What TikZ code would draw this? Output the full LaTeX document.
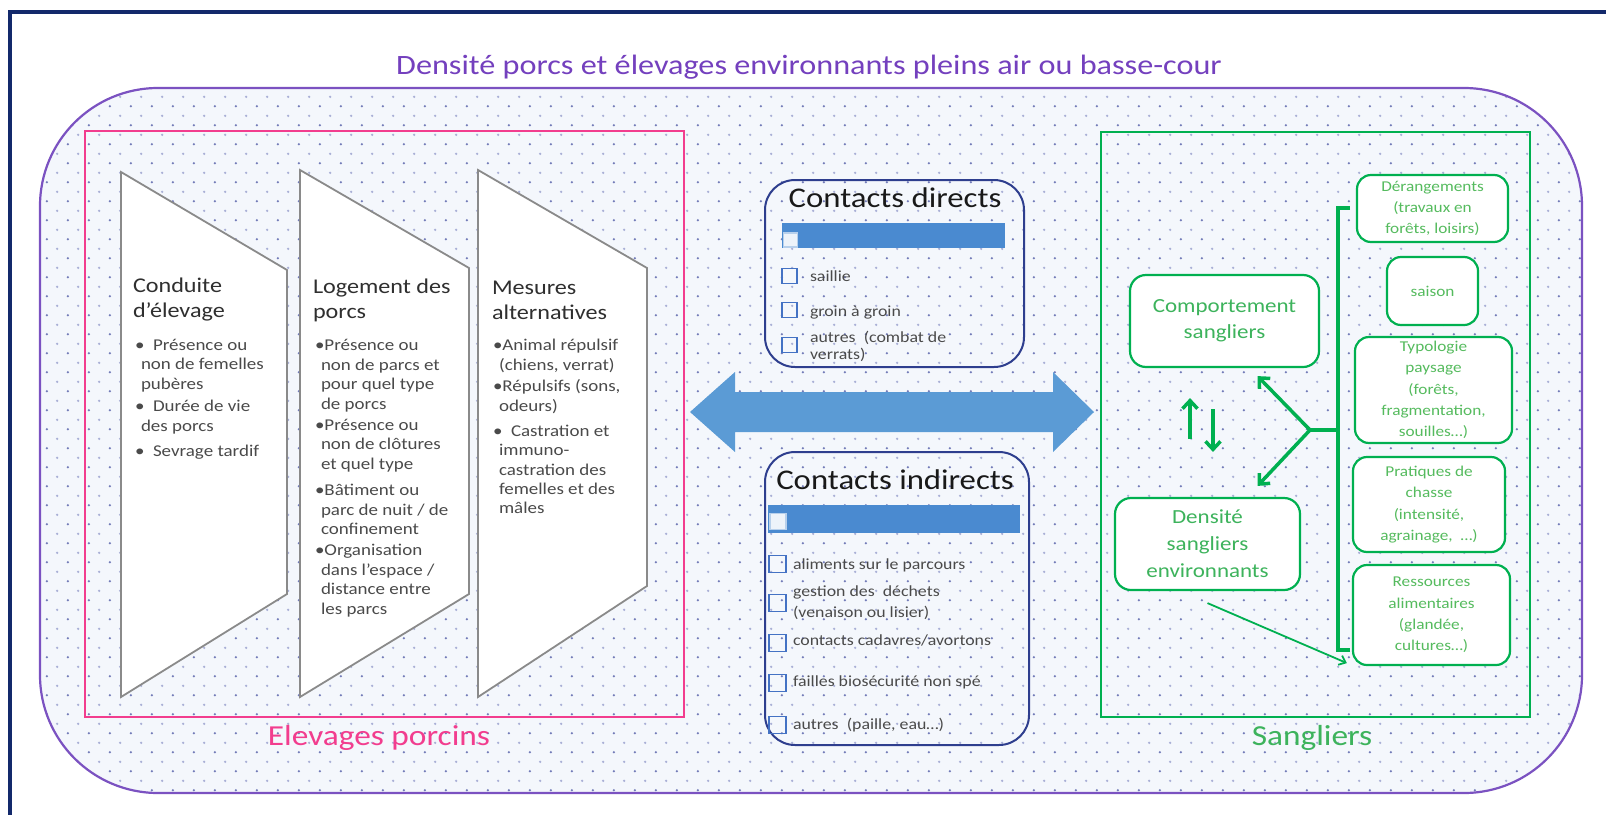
\documentclass[tikz,border=0pt]{standalone}
\usepackage{fontspec}
\setmainfont{Carlito}[FakeStretch=1.15]
\usetikzlibrary{patterns.meta,arrows.meta}
\definecolor{navy}{HTML}{13296B}
\definecolor{zonepurple}{HTML}{7B52C1}
\definecolor{titlepurple}{HTML}{7440BE}
\definecolor{pinkc}{HTML}{F23D8E}
\definecolor{greenc}{HTML}{00B050}
\definecolor{greentxt}{HTML}{3DB35C}
\definecolor{lightgreentxt}{HTML}{55BB5E}
\definecolor{arrowblue}{HTML}{5B9BD5}
\definecolor{barblue}{HTML}{4A8AD0}
\definecolor{boxblue}{HTML}{2E3E8E}
\definecolor{cbblue}{HTML}{4472C4}
\definecolor{trapgray}{HTML}{8A8A8A}
\definecolor{headtxt}{HTML}{2F2F2F}
\definecolor{bodytxt}{HTML}{4A4A4A}
\definecolor{bgc}{HTML}{F4F7FC}
\definecolor{dotdark}{HTML}{737CB8}
\definecolor{dotlight}{HTML}{AAB0D6}
\tikzdeclarepattern{
  name=bgdots,
  type=colored,
  bottom left={(0pt,0pt)},
  top right={(21.3pt,19.3pt)},
  tile size={(21.3pt,19.3pt)},
  code={
    \fill[dotdark] (5pt,5pt) circle[radius=1.3pt];
    \fill[dotlight] (15.65pt,14.65pt) circle[radius=1.3pt];
  }
}
\newcommand\myfs[2]{\fontsize{#1pt}{#2pt}\selectfont}
\newcommand\hind{\hspace*{6pt}}
\begin{document}
\begin{tikzpicture}[x=1pt,y=-1pt,
  txt/.style={inner sep=0pt, outer sep=0pt, anchor=west, align=left},
  trapbox/.style={draw=trapgray, line width=1.8pt, fill=white},
  gbox/.style={draw=greenc, line width=2.2pt, fill=white, rounded corners=14pt, align=center, text=lightgreentxt, inner sep=0pt, font=\myfs{15}{21.3}},
  cbox/.style={draw=cbblue, line width=1.2pt, minimum width=15pt, minimum height=15pt, inner sep=0pt},
  garrow/.style={draw=greenc, line width=3.5pt, -{Straight Barb[length=8pt,width=15pt]}},
  headt/.style={txt, text=headtxt, font=\myfs{21}{25}},
  bullt/.style={txt, text=bodytxt, font=\myfs{16.5}{19.6}},
  itemt/.style={txt, text=bodytxt, font=\myfs{15.5}{21}},
  ctitle/.style={inner sep=0pt, text=black!90, font=\myfs{28.5}{30}},
]
\useasboundingbox (0,0) rectangle (1606,814);
\fill[white] (0,0) rectangle (1606,814);
% outer frame
\draw[navy, line width=4pt] (10,830) -- (10,12) -- (1620,12);
% title
\node[inner sep=0pt, text=titlepurple, font=\myfs{28}{30}] (title) at (809,67) {Densité porcs et élevages environnants pleins air ou basse-cour};
% zone
\node[draw=zonepurple, line width=2.2pt, rounded corners=118pt, preaction={fill=bgc}, pattern=bgdots, minimum width=1542pt, minimum height=705pt, inner sep=0pt] (zone) at (811,440.5) {};
% group frames
\node[draw=pinkc, line width=2pt, minimum width=599pt, minimum height=586pt, inner sep=0pt] (elev) at (384.5,424) {};
\node[draw=greenc, line width=2pt, minimum width=429pt, minimum height=585pt, inner sep=0pt] (sang) at (1315.5,424.5) {};
\node[inner sep=0pt, text=pinkc, font=\myfs{29}{30}] (elevlbl) at (379,738) {Elevages porcins};
\node[inner sep=0pt, text=greentxt, font=\myfs{29}{30}] (sanglbl) at (1312,738) {Sangliers};
% trapezoids
\draw[trapbox] (121,172) -- (287,270) -- (287,594) -- (121,697) -- cycle;
\draw[trapbox] (300,170) -- (469,268) -- (469,594) -- (300,697) -- cycle;
\draw[trapbox] (478,170) -- (647,268) -- (647,586) -- (478,697) -- cycle;
% trapezoid 1 text
\node[headt] (h1) at (133,299.5) {Conduite\\d’élevage};
\node[bullt] (b11) at (135,365.5) {\textbullet\ \ Présence ou\\\hind non de femelles\\\hind pubères};
\node[bullt] (b12) at (135,417) {\textbullet\ \ Durée de vie\\\hind des porcs};
\node[bullt] (b13) at (135,452) {\textbullet\ \ Sevrage tardif};
% trapezoid 2 text
\node[headt] (h2) at (313,300) {Logement des\\porcs};
\node[bullt] (b21) at (315,375.5) {\textbullet Présence ou\\\hind non de parcs et\\\hind pour quel type\\\hind de porcs};
\node[bullt] (b22) at (315,445.5) {\textbullet Présence ou\\\hind non de clôtures\\\hind et quel type};
\node[bullt] (b23) at (315,509.5) {\textbullet Bâtiment ou\\\hind parc de nuit / de\\\hind confinement};
\node[bullt] (b24) at (315,580.5) {\textbullet Organisation\\\hind dans l’espace /\\\hind distance entre\\\hind les parcs};
% trapezoid 3 text
\node[headt] (h3) at (492,300) {Mesures\\alternatives};
\node[bullt] (b31) at (493,356) {\textbullet Animal répulsif\\\hind (chiens, verrat)};
\node[bullt] (b32) at (493,396.5) {\textbullet Répulsifs (sons,\\\hind odeurs)};
\node[bullt, font=\myfs{16.5}{19.3}] (b33) at (493,469.5) {\textbullet\ \ Castration et\\\hind immuno-\\\hind castration des\\\hind femelles et des\\\hind mâles};
% double arrow
\fill[arrowblue] (690,412) -- (735,372) -- (735,392) -- (1053,392) -- (1053,372) -- (1094,412) -- (1053,452) -- (1053,432) -- (735,432) -- (735,452) -- cycle;
% contacts directs
\node[draw=boxblue, line width=2pt, rounded corners=30pt, minimum width=259pt, minimum height=187pt, inner sep=0pt] (cdbox) at (894.5,273.5) {};
\node[ctitle] (cdt) at (895,198) {Contacts directs};
\node[fill=barblue, minimum width=223pt, minimum height=25pt, inner sep=0pt] (cdbar) at (893.5,235.5) {};
\node[cbox, fill=white!90!barblue, draw=white!60!barblue, minimum width=14pt, minimum height=14pt] (cd0) at (790.5,240) {};
\node[cbox] (cd1) at (789.5,276) {};
\node[itemt] (cdt1) at (810,276) {saillie};
\node[cbox] (cd2) at (789.5,310) {};
\node[itemt] (cdt2) at (810,312) {groin à groin};
\node[cbox] (cd3) at (789.5,345) {};
\node[itemt, font=\myfs{15.5}{17}] (cdt3) at (810,346.5) {autres \ (combat de\\verrats)};
% contacts indirects
\node[draw=boxblue, line width=2pt, rounded corners=30pt, minimum width=264pt, minimum height=293pt, inner sep=0pt] (cibox) at (897,598.5) {};
\node[ctitle] (cit) at (895,480) {Contacts indirects};
\node[fill=barblue, minimum width=252pt, minimum height=28pt, inner sep=0pt] (cibar) at (894,519) {};
\node[cbox, fill=white!90!barblue, draw=white!60!barblue, minimum width=16pt, minimum height=16pt] (ci0) at (778,521.5) {};
\node[cbox, minimum width=17pt, minimum height=17pt] (ci1) at (777.5,564) {};
\node[itemt] (cit1) at (793,565) {aliments sur le parcours};
\node[cbox, minimum width=17pt, minimum height=17pt] (ci2) at (777.5,603) {};
\node[itemt] (cit2) at (793,602.5) {gestion des \ déchets\\(venaison ou lisier)};
\node[cbox, minimum width=17pt, minimum height=17pt] (ci3) at (777.5,643) {};
\node[itemt] (cit3) at (793,640) {contacts cadavres/avortons};
\node[cbox, minimum width=17pt, minimum height=17pt] (ci4) at (777.5,683) {};
\node[itemt] (cit4) at (793,682) {failles biosécurité non spé};
\node[cbox, minimum width=17pt, minimum height=17pt] (ci5) at (777.5,725) {};
\node[itemt] (cit5) at (793,725) {autres \ (paille, eau…)};
% sangliers
\node[gbox, font=\myfs{20}{26}, text=greentxt, rounded corners=16pt, minimum width=189pt, minimum height=92pt] (comp) at (1224.5,321) {Comportement\\sangliers};
\node[gbox, font=\myfs{20}{27}, text=greentxt, rounded corners=16pt, minimum width=185pt, minimum height=92pt] (dens) at (1207.5,544) {Densité\\sangliers\\environnants};
\node[gbox, minimum width=151pt, minimum height=67pt] (der) at (1432.5,208.5) {Dérangements\\(travaux en\\forêts, loisirs)};
\node[gbox, minimum width=91pt, minimum height=68pt] (sai) at (1432.5,291) {saison};
\node[gbox, minimum width=157pt, minimum height=106pt] (typ) at (1433.5,390) {Typologie\\paysage\\(forêts,\\fragmentation,\\souilles…)};
\node[gbox, minimum width=152pt, minimum height=95pt] (pra) at (1429,504.5) {Pratiques de\\chasse\\(intensité,\\agrainage, \ …)};
\node[gbox, minimum width=157pt, minimum height=100pt] (res) at (1431.5,615) {Ressources\\alimentaires\\(glandée,\\cultures…)};
% bracket and fork
\draw[greenc, line width=4.5pt] (1350,208) -- (1338,208) -- (1338,650) -- (1350,650);
\coordinate (brk) at (1338,430);
\coordinate (fj) at (1310,430);
\coordinate (ca) at ([shift={(33,8)}]comp.south);
\coordinate (da) at ([shift={(50,-11)}]dens.north);
\draw[greenc, line width=3.5pt] (brk) -- (fj);
\draw[garrow] (fj) -- (ca);
\draw[garrow] (fj) -- (da);
% up / down arrows
\coordinate (upa) at ([shift={(-17.5,-58)}]dens.north);
\coordinate (upb) at ([shift={(-34.5,30)}]comp.south);
\coordinate (dna) at ([shift={(-11.5,41)}]comp.south);
\coordinate (dnb) at ([shift={(5.5,-45)}]dens.north);
\draw[garrow] (upa) -- (upb);
\draw[garrow] (dna) -- (dnb);
% thin arrow
\coordinate (ta) at ([shift={(0,12)}]dens.south);
\coordinate (tb) at ([shift={(-5,-3)}]res.south west);
\draw[greenc, line width=1.8pt, -{Straight Barb[length=6pt,width=10pt]}] (ta) -- (tb);
\end{tikzpicture}
\end{document}
